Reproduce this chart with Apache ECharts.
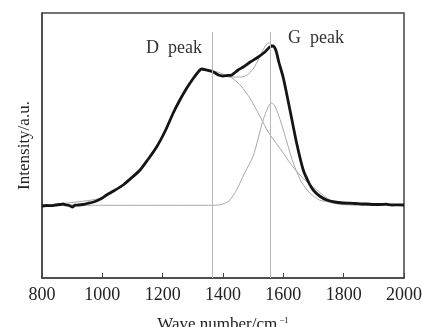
<!DOCTYPE html>
<html><head><meta charset="utf-8">
<script src="https://cdn.jsdelivr.net/npm/echarts@6/dist/echarts.min.js"></script>
<style>html,body{margin:0;padding:0;background:#fff}#c{width:422px;height:327px}</style>
</head><body><div id="c"></div>
<script>
// Wave numbers (cm^-1) and intensities (arbitrary units)
const measuredX = [800,815,830,845,860,870,880,890,900,910,920,935,950,965,980,1000,1014,1040,1069,1100,1125,1150,1180,1210,1235,1257,1280,1300,1315,1329,1345,1368,1385,1400,1415,1429,1450,1467,1490,1512,1539,1555,1565,1575,1585,1600,1622,1644,1666,1685,1699,1720,1744,1770,1799,1820,1840,1860,1876,1900,1920,1940,1960,1980,2000];
const measuredY = [72,72.5,72.3,73,73.5,74,73,72.5,71,72.8,73,73.5,74.5,75.5,77,80,83,87.5,93,101,108,118,131,148,165,178,190,199,205,209,208,206,203,202,202.5,203,208,211,216,220,226,231,232,228,216,200,168,135,108,95,88,82,78,76,75,74.8,74.5,74,74,73.5,73.5,73.8,73,73.2,73];

const dFitX = [800,900,950,1000,1040,1069,1100,1125,1150,1180,1210,1235,1257,1280,1300,1315,1329,1345,1370,1400,1430,1460,1489,1520,1550,1578,1600,1622,1655,1690,1711,1740,1766,1800,1850,1900,2000];
const dFitY = [72.5,73,74.5,80,87.5,93,101,108,118,131,148,165,178,190,199,205,209,208.5,207,204,200,192,180,163,146,134,125,115,103,93,88,81,76,74,73,72.7,72.7];

const gFitX = [800,1000,1200,1370,1390,1405,1420,1445,1470,1500,1533,1550,1559,1570,1585,1600,1633,1660,1688,1720,1744,1780,1820,2000];
const gFitY = [72.7,72.7,72.7,72.7,73.2,74.5,77,88,104,122,158,171,175,173,162,148,115,96,85,78,76.3,74,73,72.7];

const sumFitX = [800,1000,1069,1100,1150,1210,1257,1300,1329,1360,1400,1430,1460,1480,1500,1520,1540,1552,1565,1580,1600,1622,1644,1666,1699,1744,1800,1900,2000];
const sumFitY = [72.5,80,93,101,118,148,178,199,209,207,202,201,201,203,209,220,232,235,232,222,200,168,135,108,88,78,75,73.5,73];

const peakPositions = [1363, 1558];
const peakLabels = ['D  peak', 'G  peak'];
const xTicks = [800,1000,1200,1400,1600,1800,2000];

const zip = (xs, ys) => xs.map((x, i) => [x, ys[i]]);
const chart = echarts.init(document.getElementById('c'));
const serif = '"Liberation Serif","DejaVu Serif",serif';
const thin = {color:'#a8a8a8', width:1};

chart.setOption({
  animation:false,
  grid:{left:42,right:18,top:13,bottom:49,show:true,borderColor:'#444',borderWidth:1.5,containLabel:false,outerBoundsMode:'none'},
  xAxis:{type:'value',min:xTicks[0],max:xTicks[xTicks.length-1],interval:200,
    axisLine:{lineStyle:{color:'#444',width:1.5}},
    axisTick:{inside:true,length:5,lineStyle:{color:'#444'}},
    splitLine:{show:false},
    axisLabel:{fontFamily:serif,fontSize:18,color:'#222',margin:8,formatter:v=>String(v)},
    name:'Wave number/cm{s|−1}',nameLocation:'middle',nameGap:38,
    nameTextStyle:{fontFamily:serif,fontSize:17,color:'#222',rich:{s:{fontFamily:serif,fontSize:9,color:'#222',verticalAlign:'top',padding:[0,0,9,2]}}}},
  yAxis:{type:'value',min:0,max:265,
    axisLine:{show:true,lineStyle:{color:'#444',width:1.5}},
    axisTick:{show:false},axisLabel:{show:false},splitLine:{show:false},
    name:'Intensity/a.u.',nameLocation:'middle',nameGap:9,
    nameTextStyle:{fontFamily:serif,fontSize:17,color:'#222'}},
  series:[
    {type:'line',data:zip(gFitX,gFitY),symbol:'none',smooth:0.25,lineStyle:thin,z:2,
      markLine:{silent:true,symbol:'none',label:{show:false},lineStyle:{color:'#b8b8b8',width:1,type:'solid'},
        data:peakPositions.map(p=>[{coord:[p,0]},{coord:[p,246]}])}},
    {type:'line',data:zip(dFitX,dFitY),symbol:'none',smooth:0.25,lineStyle:thin,z:2},
    {type:'line',data:zip(sumFitX,sumFitY),symbol:'none',smooth:0.25,lineStyle:thin,z:2},
    {type:'line',data:zip(measuredX,measuredY),symbol:'none',smooth:0.25,lineStyle:{color:'#151515',width:2.8},z:3}
  ],
  graphic:[
    {type:'text',left:146,top:39,style:{text:peakLabels[0],font:'18px '+serif,fill:'#333'}},
    {type:'text',left:288,top:29,style:{text:peakLabels[1],font:'18px '+serif,fill:'#333'}}
  ]
});
</script></body></html>
